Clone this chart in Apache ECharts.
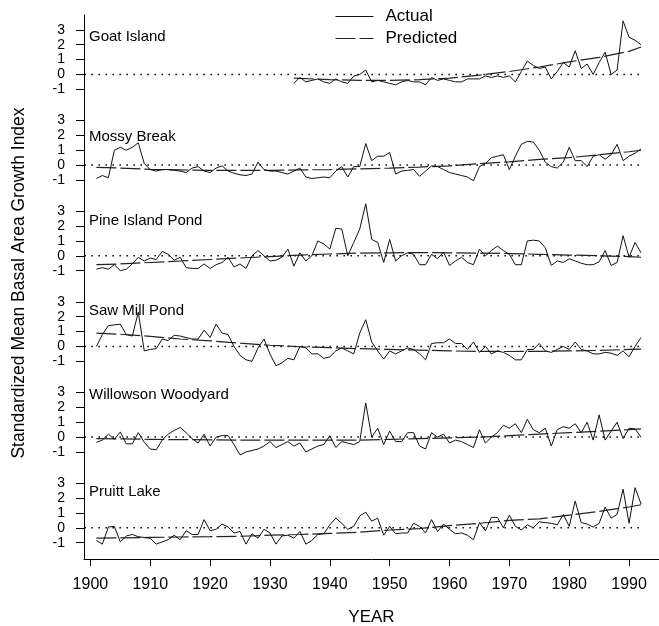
<!DOCTYPE html>
<html><head><meta charset="utf-8">
<script src="https://cdn.jsdelivr.net/npm/echarts@6/dist/echarts.min.js"></script>
<style>html,body{margin:0;padding:0;background:#fff}#c{width:659px;height:626px}</style>
</head><body><div id="c"></div>
<script>
// ---------- data ----------
const siteNames = ['Goat Island','Mossy Break','Pine Island Pond','Saw Mill Pond','Willowson Woodyard','Pruitt Lake'];
const firstYear = 1901;
const goatFirstYear = 1934;

const goatActual = [
  -0.6,-0.2,-0.5,-0.4,-0.3,-0.5,-0.6,-0.3,-0.5,-0.6,
  -0.1,0.0,0.3,-0.5,-0.4,-0.5,-0.6,-0.7,-0.5,-0.4,
  -0.5,-0.5,-0.7,-0.2,-0.4,-0.3,-0.4,-0.5,-0.5,-0.3,
  -0.3,-0.3,-0.1,-0.2,-0.1,-0.2,-0.1,-0.5,0.2,0.9,
  0.6,0.4,0.5,-0.3,0.2,0.8,0.5,1.6,0.4,0.7,
  0.0,0.8,1.5,0.0,0.3,3.6,2.5,2.3,2.0
];
const mossyActual = [
  -0.9,-0.7,-0.85,1.0,1.2,1.0,1.2,1.5,0.1,-0.3,
  -0.4,-0.3,-0.3,-0.35,-0.4,-0.5,-0.2,-0.1,-0.4,-0.5,
  -0.2,-0.05,-0.4,-0.55,-0.65,-0.7,-0.6,0.2,-0.3,-0.4,
  -0.4,-0.5,-0.6,-0.4,-0.2,-0.8,-0.9,-0.85,-0.8,-0.85,
  -0.4,-0.1,-0.8,-0.1,-0.1,1.45,0.3,0.6,0.6,0.85,
  -0.6,-0.4,-0.35,-0.3,-0.75,-0.4,-0.05,-0.1,-0.3,-0.5,
  -0.6,-0.7,-0.8,-1.05,-0.1,0.1,0.5,0.6,0.7,-0.3,
  0.6,1.4,1.6,1.55,1.0,0.2,-0.1,-0.2,0.2,1.2,
  0.3,0.3,-0.1,0.6,0.7,0.4,0.7,1.4,0.3,0.6,
  0.8,1.1
];
const pineActual = [
  -0.9,-0.8,-0.9,-0.6,-1.0,-0.9,-0.55,-0.1,-0.35,-0.15,
  -0.25,0.3,0.1,-0.3,-0.1,-0.8,-0.85,-0.85,-0.55,-0.85,
  -0.6,-0.45,-0.1,-0.75,-0.55,-0.85,0.0,0.35,0.0,-0.35,
  -0.3,-0.1,0.45,-0.7,0.2,-0.35,0.0,1.0,0.8,0.45,
  1.85,1.8,0.0,0.9,1.8,3.5,1.1,0.9,-0.45,1.1,
  -0.35,0.0,0.2,0.1,-0.6,-0.6,0.1,-0.2,0.25,-0.65,
  -0.35,-0.1,-0.45,-0.6,0.45,0.0,0.35,0.65,0.35,0.1,
  -0.6,-0.6,1.0,1.05,1.0,0.55,-0.65,-0.35,-0.45,-0.2,
  -0.35,-0.5,-0.6,-0.6,-0.4,0.35,-0.65,-0.45,1.35,-0.1,
  0.9,0.2
];
const sawActual = [
  0.0,0.8,1.4,1.45,1.5,0.8,0.7,2.3,-0.3,-0.2,
  -0.15,0.5,0.4,0.75,0.7,0.6,0.5,0.5,1.1,0.6,
  1.5,0.9,0.8,0.0,-0.6,-0.9,-1.0,-0.1,0.5,-0.5,
  -1.3,-1.1,-0.8,-0.9,0.0,-0.1,-0.5,-0.5,-0.8,-0.7,
  -0.3,-0.1,-0.3,-0.5,0.9,1.8,0.3,-0.3,-0.85,-0.3,
  -0.5,-0.3,-0.1,-0.2,-0.5,-0.9,0.2,0.25,0.25,0.5,
  0.2,0.2,-0.2,0.3,-0.4,0.0,-0.5,-0.3,-0.4,-0.6,
  -0.9,-0.9,-0.2,-0.2,0.2,-0.3,-0.4,-0.2,0.0,-0.2,
  0.3,-0.2,-0.3,-0.5,-0.5,-0.4,-0.45,-0.6,-0.3,-0.7,
  0.0,0.6
];
const willowActual = [
  -0.35,-0.2,0.2,-0.15,0.35,-0.45,-0.45,0.3,-0.35,-0.8,
  -0.85,-0.2,0.2,0.45,0.65,0.3,-0.1,-0.4,0.2,-0.6,
  0.0,0.1,0.1,-0.5,-1.2,-1.0,-0.9,-0.8,-0.6,-0.3,
  -0.7,-0.5,-0.3,-0.6,-0.4,-1.0,-0.8,-0.6,-0.5,0.1,
  -0.7,-0.3,-0.4,-0.5,-0.3,2.3,0.0,0.6,-0.5,0.4,
  -0.3,-0.3,0.3,0.3,-0.6,-0.8,0.3,0.0,0.2,-0.4,
  -0.2,-0.3,-0.5,-0.7,0.5,-0.4,0.0,0.3,0.8,0.6,
  0.9,0.3,1.2,0.5,0.3,0.6,-0.6,0.5,0.7,0.6,
  0.9,0.3,1.0,-0.2,1.5,-0.2,0.4,1.0,-0.1,0.6,
  0.55,0.0
];
const pruittActual = [
  -0.85,-1.1,0.05,0.1,-0.95,-0.55,-0.45,-0.6,-0.65,-0.7,
  -1.1,-0.95,-0.8,-0.5,-0.8,-0.2,-0.45,-0.45,0.55,-0.2,
  -0.1,0.25,0.05,-0.35,-0.25,-1.1,-0.4,-0.7,-0.1,-0.35,
  -1.1,-0.55,-0.5,-0.7,-0.25,-1.1,-0.85,-0.45,-0.4,0.2,
  0.65,0.3,-0.1,0.1,0.8,1.05,0.45,0.65,-0.5,0.1,
  -0.4,-0.35,-0.35,0.3,0.1,-0.35,0.55,-0.25,0.25,-0.1,
  -0.4,-0.35,-0.5,-0.8,0.35,-0.2,0.7,0.7,0.0,0.85,
  0.1,-0.15,0.2,0.0,0.4,0.35,0.3,0.2,0.9,0.1,
  1.8,0.35,0.25,0.05,0.3,1.4,0.65,0.9,2.6,0.3,
  2.7,1.6
];

const predYears = [1901,1905,1910,1915,1920,1925,1930,1935,1940,1945,1950,1955,1960,1965,1970,1975,1980,1985,1990,1992];
const goatPredYears = [1934,1940,1945,1950,1955,1960,1965,1970,1975,1980,1985,1990,1992];
const goatPred   = [-0.25,-0.35,-0.4,-0.4,-0.35,-0.25,-0.05,0.2,0.5,0.85,1.15,1.55,1.85];
const mossyPred  = [-0.15,-0.2,-0.28,-0.32,-0.35,-0.35,-0.35,-0.32,-0.3,-0.25,-0.2,-0.13,-0.05,0.1,0.22,0.38,0.5,0.7,0.9,1.0];
const pinePred   = [-0.6,-0.55,-0.45,-0.35,-0.25,-0.15,-0.05,0.05,0.12,0.18,0.2,0.22,0.2,0.18,0.15,0.1,0.05,0.0,-0.05,-0.1];
const sawPred    = [0.9,0.82,0.68,0.5,0.38,0.22,0.08,-0.02,-0.08,-0.15,-0.2,-0.25,-0.3,-0.33,-0.34,-0.33,-0.3,-0.27,-0.2,-0.18];
const willowPred = [-0.1,-0.12,-0.15,-0.17,-0.18,-0.2,-0.2,-0.2,-0.2,-0.2,-0.15,-0.1,-0.05,0.0,0.1,0.2,0.3,0.4,0.5,0.55];
const pruittPred = [-0.7,-0.68,-0.65,-0.62,-0.6,-0.57,-0.5,-0.45,-0.38,-0.3,-0.15,-0.05,0.15,0.3,0.5,0.6,0.85,1.1,1.4,1.55];

const xTickLabels = [1900,1910,1920,1930,1940,1950,1960,1970,1980,1990];
const yTickLabels = [-1,0,1,2,3];
const zeroLineYears = [1899, 1992.2];

// ---------- layout ----------
const FONT = "'Liberation Sans', Arial, sans-serif";
const plotTop = 15, plotBottom = 559, plotLeft = 84, nPanels = 6;
const panelH = (plotBottom - plotTop) / nPanels;
const titleY = [36.7, 136.7, 220.7, 311, 395, 491.7];

const actuals = [goatActual, mossyActual, pineActual, sawActual, willowActual, pruittActual];
const starts = [goatFirstYear, firstYear, firstYear, firstYear, firstYear, firstYear];
const preds = [goatPred, mossyPred, pinePred, sawPred, willowPred, pruittPred];
const predXs = [goatPredYears, predYears, predYears, predYears, predYears, predYears];

const grids = [], xAxes = [], yAxes = [], series = [], graphics = [];
for (let i = 0; i < nPanels; i++) {
  grids.push({ left: plotLeft, right: 0, top: plotTop + i * panelH, height: panelH });
  const last = i === nPanels - 1;
  xAxes.push({
    gridIndex: i, type: 'value', min: 1898.93, max: 1995.0, show: last,
    axisLine: { show: true, onZero: false, lineStyle: { color: '#000', width: 1 } },
    axisTick: { show: true, length: 7, customValues: xTickLabels, lineStyle: { color: '#000' } },
    axisLabel: { customValues: xTickLabels, formatter: v => String(v), fontSize: 16, margin: 18, color: '#000', fontFamily: FONT },
    splitLine: { show: false }
  });
  yAxes.push({
    gridIndex: i, type: 'value', min: -2.1, max: 4,
    axisLine: { show: true, onZero: false, lineStyle: { color: '#000', width: 1 } },
    axisTick: { show: true, length: 8, customValues: yTickLabels, lineStyle: { color: '#000' } },
    axisLabel: { customValues: yTickLabels, formatter: v => String(v), fontSize: 14, margin: 19, color: '#000', fontFamily: FONT },
    splitLine: { show: false }
  });
  series.push({
    type: 'line', xAxisIndex: i, yAxisIndex: i, silent: true, symbol: 'none',
    data: zeroLineYears.map(x => [x, 0]),
    itemStyle: { color: '#000' },
    lineStyle: { color: '#000', width: 1.5, type: [1.5, 5.5] }, z: 1
  });
  series.push({
    name: 'Predicted', type: 'line', xAxisIndex: i, yAxisIndex: i, symbol: 'none',
    data: predXs[i].map((x, k) => [x, preds[i][k]]),
    itemStyle: { color: '#222' },
    lineStyle: { color: '#222', width: 1.2, type: [20, 4] }, z: 2
  });
  series.push({
    name: 'Actual', type: 'line', xAxisIndex: i, yAxisIndex: i, symbol: 'none',
    data: actuals[i].map((v, k) => [starts[i] + k, v]),
    itemStyle: { color: '#111' },
    lineStyle: { color: '#111', width: 1 }, z: 3
  });
  graphics.push({
    type: 'text', x: plotLeft + 5, y: titleY[i], silent: true,
    style: { text: siteNames[i], fontSize: 15, fontFamily: FONT, fill: '#000', align: 'left', verticalAlign: 'middle' }
  });
}
graphics.push({
  type: 'text', x: 19, y: 283, rotation: Math.PI / 2, silent: true,
  style: { text: 'Standardized Mean Basal Area Growth Index', fontSize: 17.5, fontFamily: FONT, fill: '#000', align: 'center', verticalAlign: 'middle' }
});
graphics.push({
  type: 'text', x: 371.5, y: 617, silent: true,
  style: { text: 'YEAR', fontSize: 17, fontFamily: FONT, fill: '#000', align: 'center', verticalAlign: 'middle' }
});

const chart = echarts.init(document.getElementById('c'), null, { renderer: 'canvas' });
chart.setOption({
  animation: false,
  backgroundColor: '#fff',
  grid: grids, xAxis: xAxes, yAxis: yAxes, series: series,
  legend: {
    data: ['Actual', 'Predicted'], orient: 'vertical', left: 335, top: 8, padding: 0,
    itemWidth: 38, itemHeight: 18, itemGap: 5, selectedMode: false,
    itemStyle: { opacity: 0 },
    lineStyle: { width: 1 },
    textStyle: { fontSize: 17, fontFamily: FONT, color: '#000', padding: [0, 0, 0, 7] }
  },
  graphic: graphics
});
</script>
</body></html>
